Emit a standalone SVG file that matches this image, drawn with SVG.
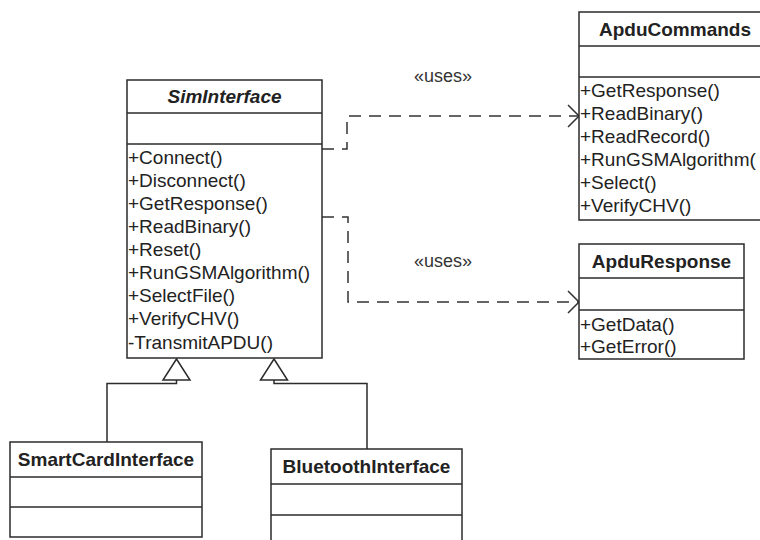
<svg xmlns="http://www.w3.org/2000/svg" width="760" height="540" viewBox="0 0 760 540">
<style>
  .box { fill: #fff; stroke: #2b2b2b; stroke-width: 1.5; }
  .sep { stroke: #2b2b2b; stroke-width: 1.5; }
  .t { font-family: "Liberation Sans", Arial, sans-serif; font-size: 19px; fill: #222; }
  .title { font-weight: bold; text-anchor: middle; }
  .ital { font-style: italic; }
  .lbl { font-family: "Liberation Sans", Arial, sans-serif; font-size: 18px; fill: #333; text-anchor: middle; }
  .gen { fill: none; stroke: #2b2b2b; stroke-width: 1.5; }
  .dep { fill: none; stroke: #333; stroke-width: 1.5; stroke-dasharray: 12 8; }
  .head { fill: none; stroke: #333; stroke-width: 1.5; }
  .tri { fill: #fff; stroke: #2b2b2b; stroke-width: 1.5; }
</style>
<rect width="760" height="540" fill="#fff"/>

<g id="connectors">
  <path class="gen" d="M107 442 V383.5 H176.5 V380"/>
  <path class="gen" d="M367 449 V383.5 H274 V380"/>
  <polygon class="tri" points="176.5,359 163,380 190,380"/>
  <polygon class="tri" points="274,359 260.5,380 287.5,380"/>
  <path class="dep" d="M322 149 H347 V116 H578"/>
  <path class="head" d="M568 105 L579 116 L568 127"/>
  <path class="dep" d="M322 217 H348 V302 H578"/>
  <path class="head" d="M568 291 L579 302 L568 313"/>
  <text class="lbl" x="443" y="82">«uses»</text>
  <text class="lbl" x="443" y="267">«uses»</text>
</g>

<g id="SimInterface">
  <rect class="box" x="127" y="80" width="195" height="278"/>
  <line class="sep" x1="127" y1="113" x2="322" y2="113"/>
  <line class="sep" x1="127" y1="144" x2="322" y2="144"/>
  <text class="t title ital" x="224.5" y="103">SimInterface</text>
  <text class="t" x="128" y="164">+Connect()</text>
  <text class="t" x="128" y="187">+Disconnect()</text>
  <text class="t" x="128" y="210">+GetResponse()</text>
  <text class="t" x="128" y="233">+ReadBinary()</text>
  <text class="t" x="128" y="256">+Reset()</text>
  <text class="t" x="128" y="279">+RunGSMAlgorithm()</text>
  <text class="t" x="128" y="302">+SelectFile()</text>
  <text class="t" x="128" y="325">+VerifyCHV()</text>
  <text class="t" x="128" y="348.5">-TransmitAPDU()</text>
</g>

<g id="ApduCommands">
  <rect class="box" x="579" y="12" width="192" height="208"/>
  <line class="sep" x1="579" y1="46" x2="771" y2="46"/>
  <line class="sep" x1="579" y1="77" x2="771" y2="77"/>
  <text class="t title" x="675" y="35.5">ApduCommands</text>
  <text class="t" x="580" y="97">+GetResponse()</text>
  <text class="t" x="580" y="120">+ReadBinary()</text>
  <text class="t" x="580" y="143">+ReadRecord()</text>
  <text class="t" x="580" y="166">+RunGSMAlgorithm(</text>
  <text class="t" x="580" y="189">+Select()</text>
  <text class="t" x="580" y="212">+VerifyCHV()</text>
</g>

<g id="ApduResponse">
  <rect class="box" x="579" y="244" width="165" height="115"/>
  <line class="sep" x1="579" y1="278" x2="744" y2="278"/>
  <line class="sep" x1="579" y1="310" x2="744" y2="310"/>
  <text class="t title" x="661.5" y="267.5">ApduResponse</text>
  <text class="t" x="580" y="331">+GetData()</text>
  <text class="t" x="580" y="353">+GetError()</text>
</g>

<g id="SmartCardInterface">
  <rect class="box" x="10" y="442" width="192" height="95"/>
  <line class="sep" x1="10" y1="477" x2="202" y2="477"/>
  <line class="sep" x1="10" y1="507" x2="202" y2="507"/>
  <text class="t title" x="106" y="466">SmartCardInterface</text>
</g>

<g id="BluetoothInterface">
  <rect class="box" x="271" y="449" width="191" height="100"/>
  <line class="sep" x1="271" y1="484" x2="462" y2="484"/>
  <line class="sep" x1="271" y1="515" x2="462" y2="515"/>
  <text class="t title" x="366.5" y="473">BluetoothInterface</text>
</g>
</svg>
